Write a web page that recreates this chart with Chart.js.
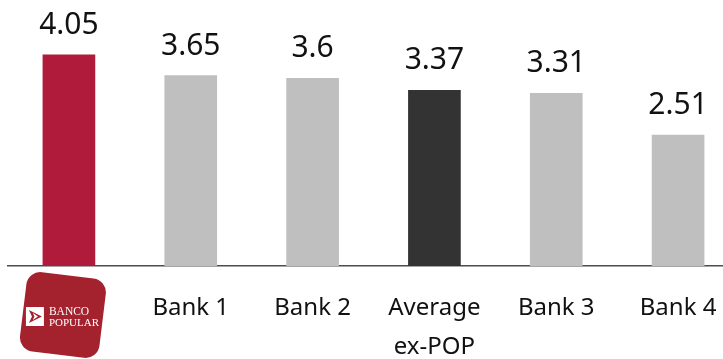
<!DOCTYPE html>
<html>
<head>
<meta charset="utf-8">
<script src="https://cdn.jsdelivr.net/npm/chart.js@4/dist/chart.umd.min.js"></script>
<style>
  html, body { margin: 0; padding: 0; background: #ffffff; overflow: hidden; }
  #wrap { position: relative; width: 739px; height: 359px; }
</style>
</head>
<body>
<div id="wrap"><canvas id="chart"></canvas></div>
<script>
// Categories (first one is shown as the bank's badge instead of a plain label)
const categories = ['BANCO POPULAR', 'Bank 1', 'Bank 2', ['Average', 'ex-POP'], 'Bank 3', 'Bank 4'];
const values = [4.05, 3.65, 3.6, 3.37, 3.31, 2.51];
const barColors = ['#b01b3b', '#bfbfbf', '#bfbfbf', '#333333', '#bfbfbf', '#bfbfbf'];
const badgeLines = ['BANCO', 'POPULAR'];

// Value labels above each bar
const valueLabels = {
  id: 'valueLabels',
  afterDatasetsDraw(chart) {
    const ctx = chart.ctx;
    const meta = chart.getDatasetMeta(0);
    ctx.save();
    ctx.font = '30px "Noto Sans"';
    ctx.fillStyle = '#111111';
    ctx.textAlign = 'center';
    ctx.textBaseline = 'alphabetic';
    meta.data.forEach((bar, i) => {
      ctx.fillText(String(chart.data.datasets[0].data[i]), bar.x, bar.y - 21);
    });
    ctx.restore();
  }
};

// Rounded red badge under the first bar
const badge = {
  id: 'badge',
  afterDraw(chart) {
    const ctx = chart.ctx;
    const xs = chart.scales.x;
    const cx = xs.getPixelForValue(0) - 6;
    const cy = 315;
    const s = 80, r = 14;
    ctx.save();
    ctx.translate(cx, cy);
    ctx.rotate(7 * Math.PI / 180);
    ctx.fillStyle = '#a3222e';
    ctx.beginPath();
    ctx.roundRect(-s / 2, -s / 2, s, s, r);
    ctx.fill();
    ctx.restore();

    // arrow mark
    ctx.save();
    const ix = cx - 37, iy = 307;
    ctx.fillStyle = '#ffffff';
    ctx.fillRect(ix, iy, 18, 19);
    ctx.fillStyle = '#a3222e';
    ctx.beginPath();
    ctx.moveTo(ix + 3, iy + 3);
    ctx.lineTo(ix + 16, iy + 9.5);
    ctx.lineTo(ix + 3, iy + 16);
    ctx.lineTo(ix + 6, iy + 9.5);
    ctx.closePath();
    ctx.fill();
    ctx.fillStyle = '#ffffff';
    ctx.beginPath();
    ctx.moveTo(ix + 7, iy + 6);
    ctx.lineTo(ix + 12, iy + 9.5);
    ctx.lineTo(ix + 7, iy + 13);
    ctx.lineTo(ix + 8.5, iy + 9.5);
    ctx.closePath();
    ctx.fill();

    ctx.fillStyle = '#ffffff';
    ctx.font = '11.5px "Liberation Serif"';
    ctx.textAlign = 'left';
    ctx.textBaseline = 'alphabetic';
    ctx.fillText(badgeLines[0], cx - 14, 314.5);
    ctx.font = '11px "Liberation Serif"';
    ctx.fillText(badgeLines[1], cx - 14, 325.5);
    ctx.restore();
  }
};

new Chart(document.getElementById('chart'), {
  type: 'bar',
  data: {
    labels: categories,
    datasets: [{
      data: values,
      backgroundColor: barColors,
      borderWidth: 0,
      barThickness: 52
    }]
  },
  options: {
    responsive: true,
    maintainAspectRatio: false,
    animation: false,
    layout: { padding: { left: 8, right: 0, top: 0, bottom: 0 } },
    plugins: { legend: { display: false }, tooltip: { enabled: false } },
    scales: {
      y: { display: false, min: 0, max: 5.1 },
      x: {
        grid: { display: false, drawTicks: false },
        border: { display: true, color: '#4d4d4d', width: 1.5 },
        ticks: {
          padding: 22,
          color: '#111111',
          font: { family: '"Noto Sans"', size: 24, lineHeight: 1.65 },
          callback(value, index) { return index === 0 ? '' : categories[index]; }
        },
        afterFit(scale) { scale.height = 93; }
      }
    }
  },
  plugins: [valueLabels, badge]
});
</script>
</body>
</html>
